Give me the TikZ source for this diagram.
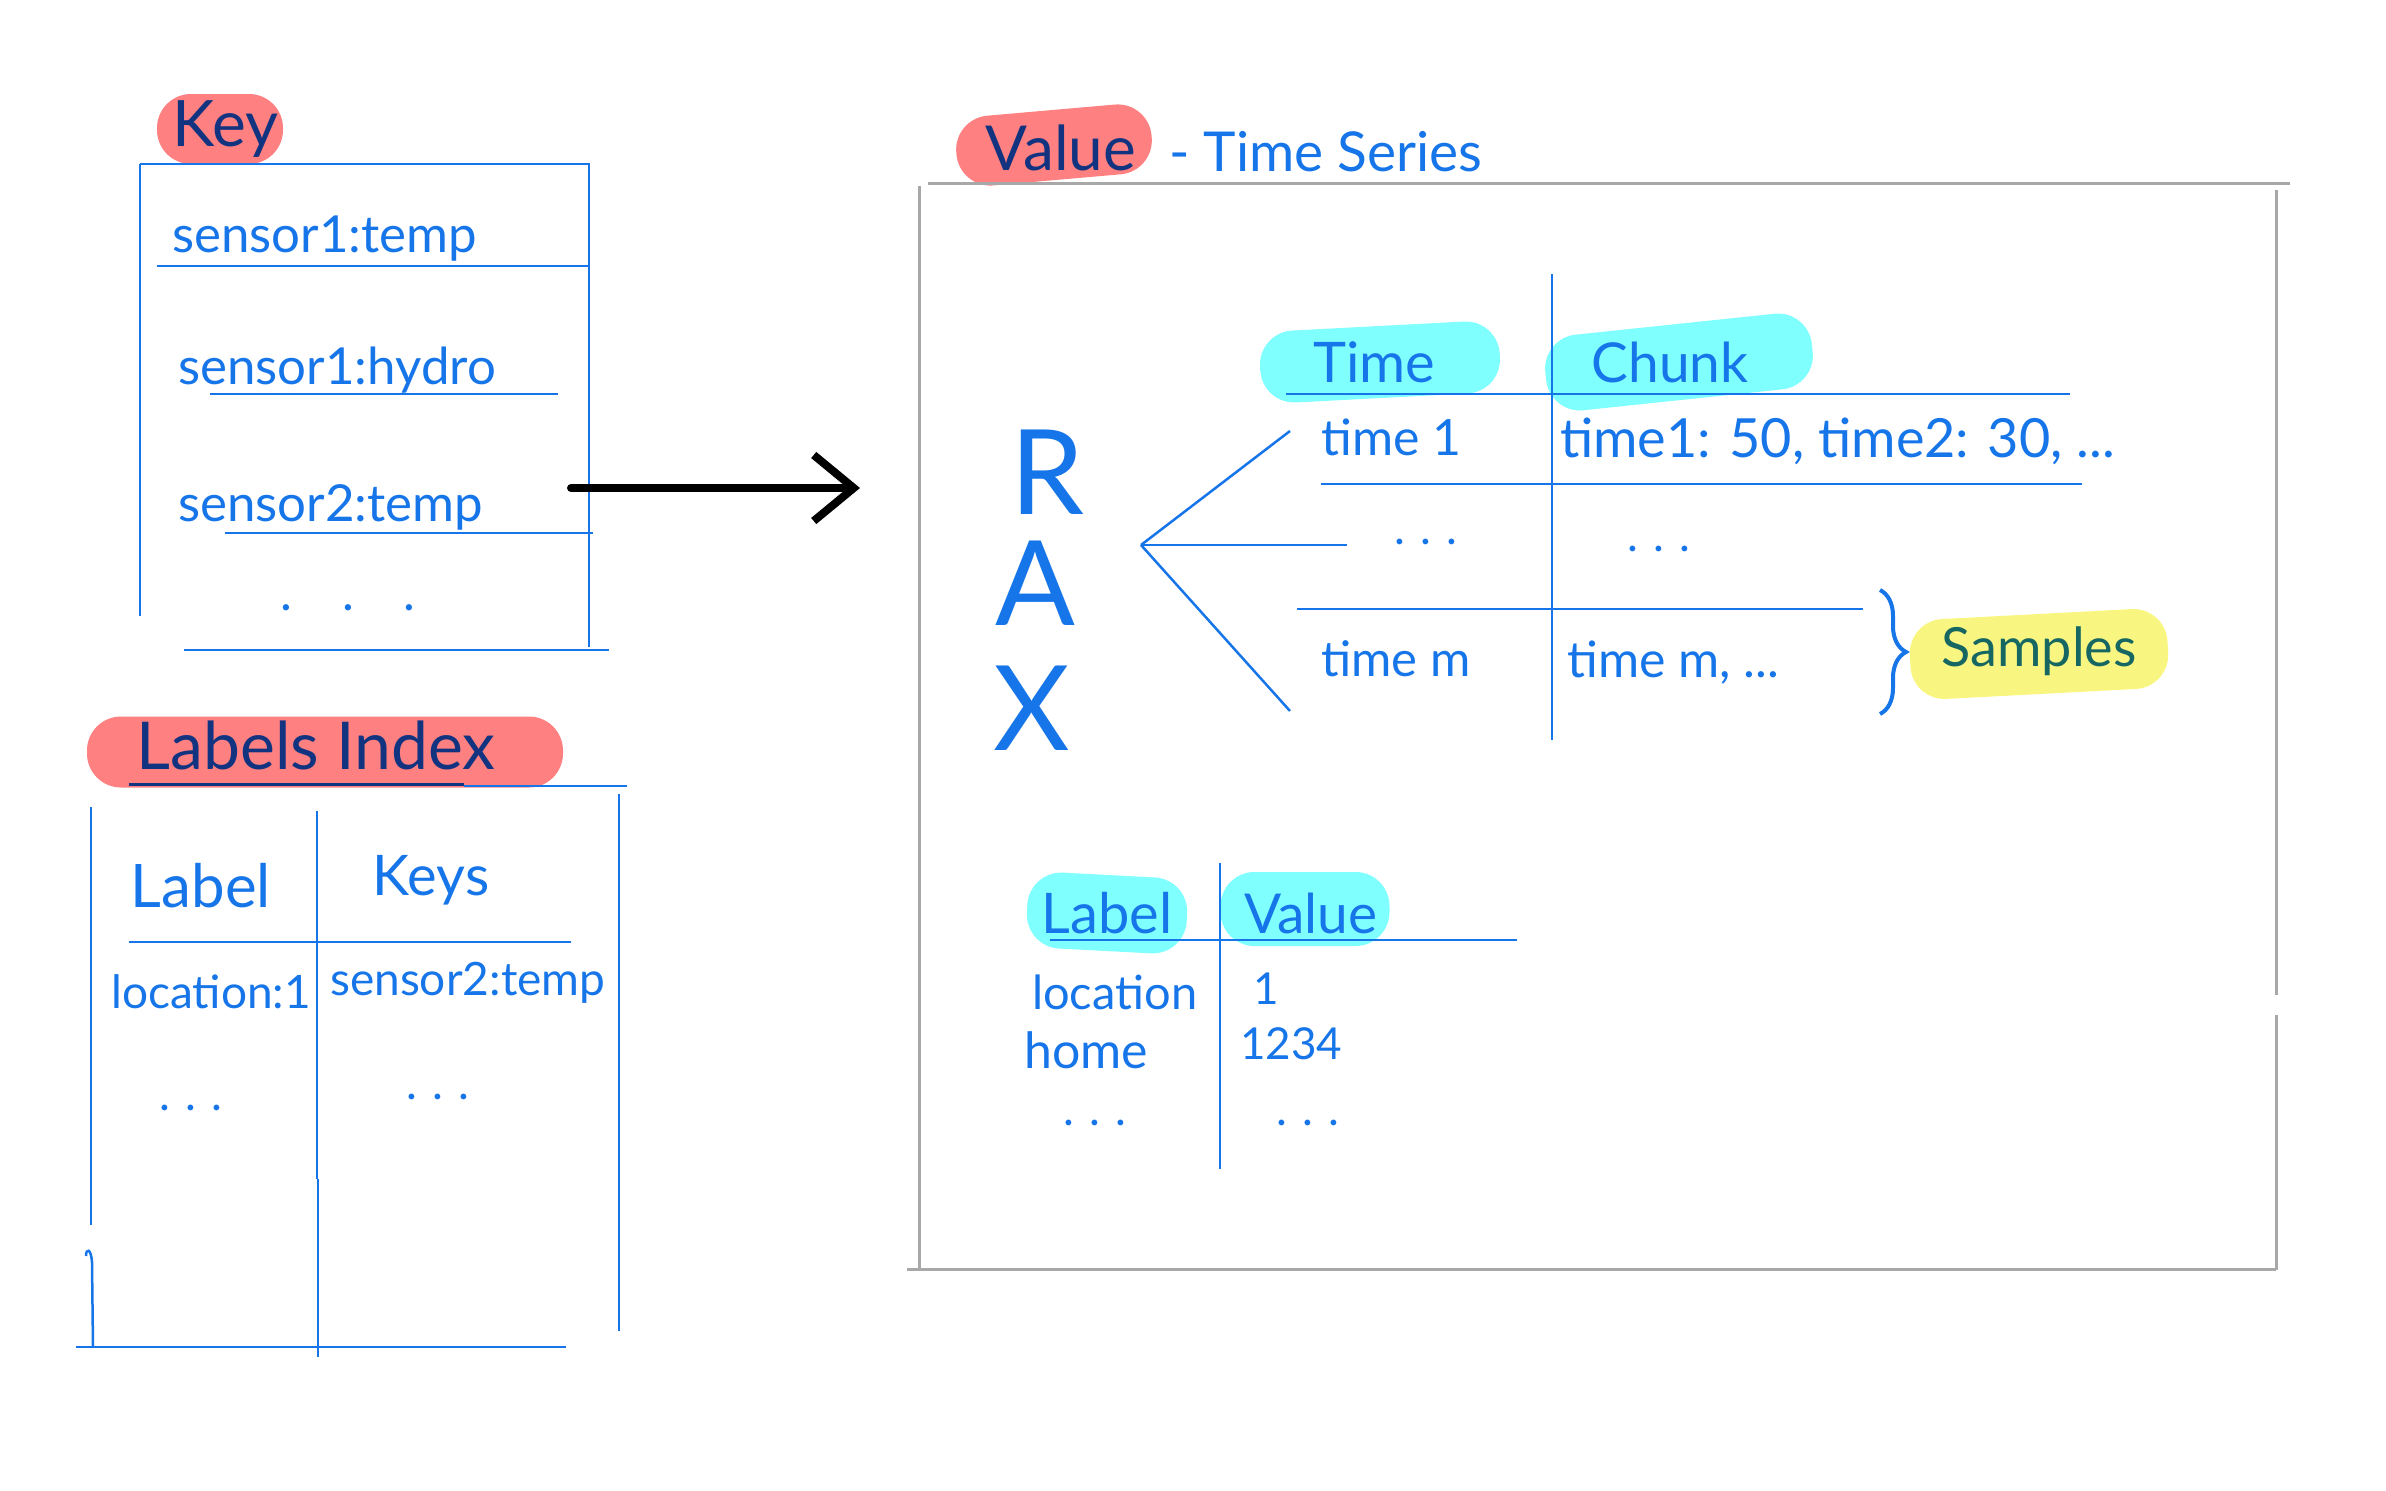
\documentclass[tikz,border=0pt]{standalone}
\usepackage{fontspec}
\setmainfont{Lato}
\usepackage{tikz}
\usetikzlibrary{arrows.meta,calc,decorations.pathreplacing}

\definecolor{penblue}{RGB}{22,117,232}
\definecolor{inknavy}{RGB}{18,52,128}
\definecolor{salmon}{RGB}{255,128,128}
\definecolor{hlcyan}{RGB}{128,255,255}
\definecolor{hlyellow}{RGB}{248,246,128}
\definecolor{inkteal}{RGB}{22,102,98}
\definecolor{boxgray}{RGB}{168,168,168}

\begin{document}
\begin{tikzpicture}[x=1pt,y=-1pt,
	pen/.style={penblue,line width=2.5pt},
	frame/.style={boxgray,line width=3pt},
	sz/.style={font=\fontsize{#1}{#1}\selectfont},
	hand/.style={inner sep=0pt,text=penblue},
	title/.style={inner sep=0pt,text=inknavy},
	pill/.style={inner sep=0pt,rounded corners=34pt}]

	\useasboundingbox (0,0) rectangle (2386,1491);

	% highlights first, so the writing stays on top
	\node[pill,fill=salmon,minimum width=126pt,minimum height=70pt] (keyhl) at (220,129) {};
	\node[pill,fill=salmon,minimum width=476pt,minimum height=71pt] (lblhl) at (325,752) {};
	\node[pill,fill=salmon,minimum width=196pt,minimum height=70pt,rotate=5] (valhl) at (1054,145) {};
	\node[pill,fill=hlcyan,minimum width=240pt,minimum height=72pt,rotate=3] (timehl) at (1380,362) {};
	\node[pill,fill=hlcyan,minimum width=268pt,minimum height=76pt,rotate=6] (chunkhl) at (1679,362) {};
	\node[pill,fill=hlyellow,minimum width=258pt,minimum height=80pt,rotate=3] (samphl) at (2039,654) {};
	\node[pill,fill=hlcyan,minimum width=160pt,minimum height=76pt,rotate=-3] (labelhl) at (1107,913) {};
	\node[pill,fill=hlcyan,minimum width=169pt,minimum height=74pt] (valuehl) at (1305,909) {};

	% key box
	\node[title,sz=64] (key) at (225,129) {Key};
	\draw[pen] (140,164) -- (590,164);
	\draw[pen] (140,164) -- (140,616);
	\draw[pen] (589,164) -- (589,647);
	\draw[pen] (157,266) -- (589,266);
	\draw[pen] (210,394) -- (558,394);
	\draw[pen] (225,533) -- (593,533);
	\draw[pen] (184,650) -- (609,650);
	\node[hand,sz=51,anchor=west] (s1temp) at (172,239) {sensor1:temp};
	\node[hand,sz=51,anchor=west] (s1hydro) at (178,370) {sensor1:hydro};
	\node[hand,sz=51,anchor=west] (s2temp) at (178,507) {sensor2:temp};
	\node[hand,sz=50] (keydots) at (348,608) {.\quad.\quad.};

	% key -> value
	\coordinate (keyout) at (571,488);
	\coordinate (valin) at (860,488);
	\draw[line width=8pt,line cap=round,-{Straight Barb[length=40pt,width=66pt]}] (keyout) -- (valin);

	% labels index
	\node[title,sz=66] (lblidx) at (316,745) {Labels Index};
	\draw[inknavy,line width=3pt] (129,784) -- (464,784);
	\draw[pen] (464,786) -- (627,786);
	\draw[pen] (91,807) -- (91,1225);
	\draw[pen] (93,1347) -- (92,1262) .. controls (91,1248) and (86,1248) .. (86,1256);
	\draw[pen] (317,811) -- (317,1179);
	\draw[pen] (318,1179) -- (318,1357);
	\draw[pen] (619,794) -- (619,1331);
	\draw[pen] (129,942) -- (571,942);
	\draw[pen] (76,1347) -- (566,1347);
	\node[hand,sz=60] (lblhead) at (201,886) {Label};
	\node[hand,sz=56] (keyshead) at (431,880) {Keys};
	\node[hand,sz=46,anchor=west] (loc1) at (111,992) {location:1};
	\node[hand,sz=46,anchor=west] (s2ref) at (330,983) {sensor2:temp};
	\node[hand,sz=46] (idxdots1) at (191,1108) {.\,\,.\,\,.};
	\node[hand,sz=46] (idxdots2) at (438,1097) {.\,\,.\,\,.};

	% value box
	\draw[frame] (928,183) -- (2290,183);
	\draw[frame] (919,186) -- (919,1269);
	\draw[frame] (2276,190) -- (2276,995);
	\draw[frame] (2276,1015) -- (2276,1270);
	\draw[frame] (907,1269) -- (2276,1269);
	\node[title,sz=62] (value) at (1061,148) {Value};
	\node[hand,sz=55,anchor=west] (series) at (1169,152) {- Time Series};

	% RAX tree
	\node[hand,sz=118] (r) at (1047,472) {R};
	\node[hand,sz=118] (a) at (1035,583) {A};
	\node[hand,sz=118] (x) at (1032,708) {X};
	\coordinate (fan) at (1141,545);
	\coordinate (fan1) at (1290,431);
	\coordinate (fan2) at (1347,545);
	\coordinate (fan3) at (1290,711);
	\draw[pen] (fan) -- (fan1);
	\draw[pen] (fan) -- (fan2);
	\draw[pen] (fan) -- (fan3);

	% time / chunk table
	\draw[pen] (1552,274) -- (1552,740);
	\draw[pen] (1286,394) -- (2070,394);
	\draw[pen] (1321,484) -- (2082,484);
	\draw[pen] (1297,609) -- (1863,609);
	\node[hand,sz=56] (time) at (1374,362) {Time};
	\node[hand,sz=55] (chunk) at (1670,362) {Chunk};
	\node[hand,sz=50,anchor=west] (time1) at (1321,437) {time 1};
	\node[hand,sz=54,anchor=west] (chunk1) at (1560,441) {time1: 50, time2: 30, ...};
	\node[hand,sz=46] (tdots1) at (1426,542) {.\,\,.\,\,.};
	\node[hand,sz=46] (tdots2) at (1659,549) {.\,\,.\,\,.};
	\node[hand,sz=49,anchor=west] (timem) at (1321,659) {time m};
	\node[hand,sz=50,anchor=west] (chunkm) at (1567,663) {time m, ...};
	\draw[pen,line width=4pt,decorate,decoration={brace,amplitude=26pt}] (1880,590) -- (1880,714);
	\node[inner sep=0pt,text=inkteal,sz=54] (samples) at (2039,651) {Samples};

	% label / value table
	\draw[pen] (1220,863) -- (1220,1169);
	\draw[pen] (1050,940) -- (1517,940);
	\node[hand,sz=56] (label) at (1107,913) {Label};
	\node[hand,sz=55] (lvalue) at (1311,913) {Value};
	\node[hand,sz=47,anchor=west] (location) at (1032,992) {location};
	\node[hand,sz=44] (one) at (1266,989) {1};
	\node[hand,sz=50,anchor=west] (home) at (1024,1050) {home};
	\node[hand,sz=44,anchor=west] (homeval) at (1240,1044) {1234};
	\node[hand,sz=46] (ldots1) at (1095,1123) {.\,\,.\,\,.};
	\node[hand,sz=46] (ldots2) at (1308,1123) {.\,\,.\,\,.};

\end{tikzpicture}
\end{document}
